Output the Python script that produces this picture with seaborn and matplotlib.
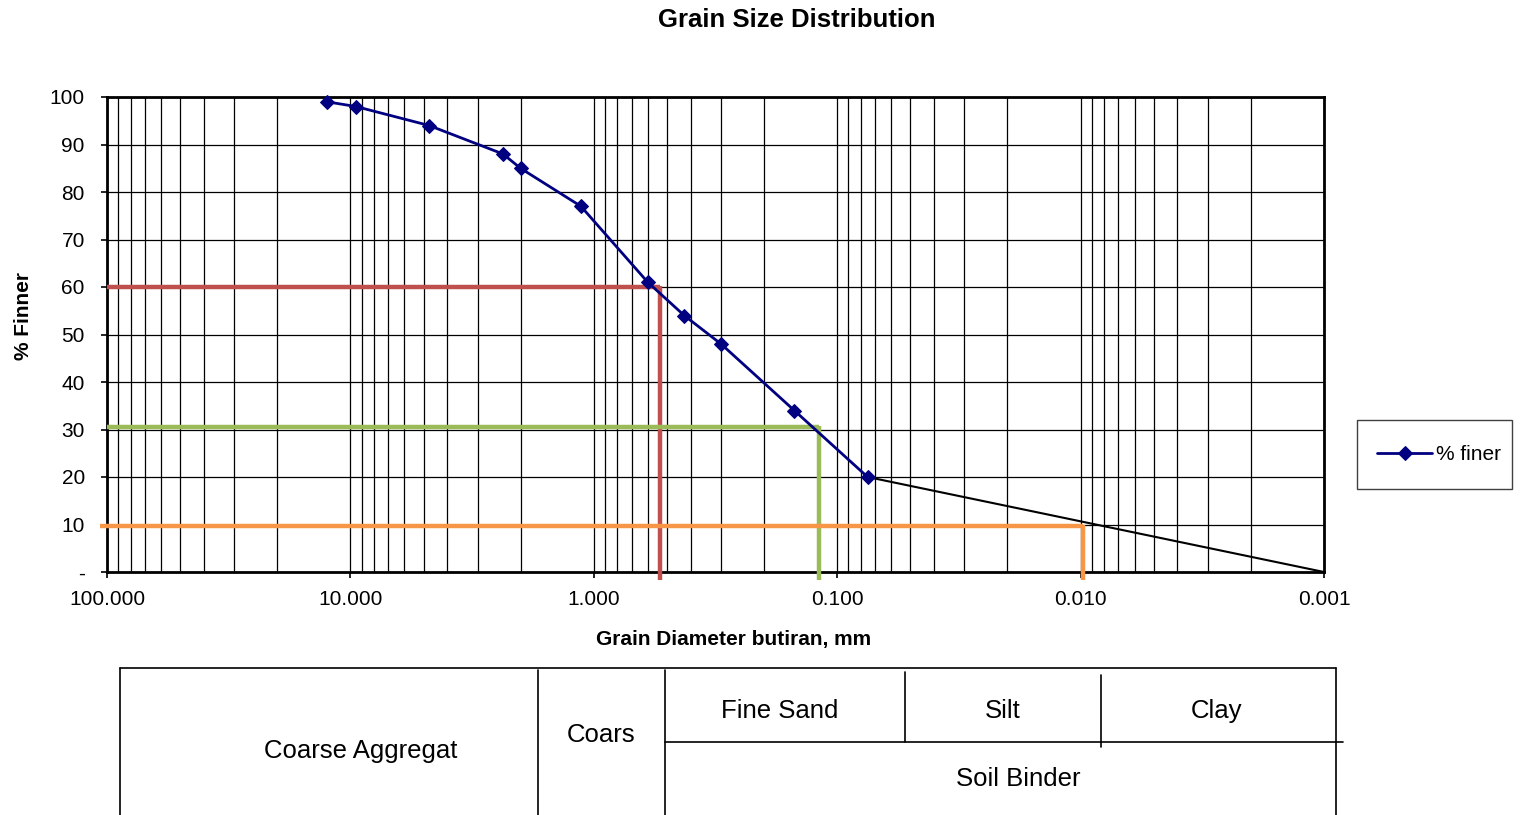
import matplotlib
matplotlib.use("Agg")
import matplotlib.pyplot as plt
from matplotlib.lines import Line2D
from matplotlib.patches import Rectangle
from matplotlib.ticker import LogLocator, FixedLocator, FixedFormatter, NullFormatter
import numpy as np
import pandas as pd
import seaborn as sns

# Sieve analysis results
grain_size_mm = [12.5, 9.5, 4.75, 2.36, 2.0, 1.13, 0.6, 0.425, 0.3, 0.15, 0.075]
percent_finer = [99, 98, 94, 88, 85, 77, 61, 54, 48, 34, 20]

# Extrapolated tail of the curve towards the finest diameter
tail_size_mm = [0.075, 0.001]
tail_finer = [20, 0]

# Characteristic diameters D60, D30, D10
d_labels = ["D60", "D30", "D10"]
d_size_mm = [0.535, 0.119, 0.0098]
d_percent = [60, 30.5, 9.7]
d_colors = ["#C0504D", "#9BBB59", "#F79646"]
d_start_mm = [100, 100, 107]

x_ticks = [100, 10, 1, 0.1, 0.01, 0.001]
x_tick_labels = ["100.000", "10.000", "1.000", "0.100", "0.010", "0.001"]
y_ticks = [0, 10, 20, 30, 40, 50, 60, 70, 80, 90, 100]
y_tick_labels = ["-", "10", "20", "30", "40", "50", "60", "70", "80", "90", "100"]

# Soil classification bands below the chart
band_labels = ["Coarse Aggregat", "Coars", "Fine Sand", "Silt", "Clay", "Soil Binder"]

sns.set_style("white")
plt.rcParams["font.family"] = ["Liberation Sans", "DejaVu Sans"]
plt.rcParams["text.color"] = "black"
plt.rcParams["xtick.labelcolor"] = "black"
plt.rcParams["ytick.labelcolor"] = "black"

W, H = 1522, 815
fig = plt.figure(figsize=(W / 100, H / 100), dpi=100)
fig.patch.set_facecolor("white")


def fx(px):
    return px / W


def fy(py):
    return 1 - py / H


ax = fig.add_axes([fx(107), fy(572), fx(1324) - fx(107), fy(97) - fy(572)])

df = pd.DataFrame({"size": grain_size_mm, "finer": percent_finer})
tail = pd.DataFrame({"size": tail_size_mm, "finer": tail_finer})

ax.set_xscale("log")

# Reference lines for D60 / D30 / D10
for d, p, c, s in zip(d_size_mm, d_percent, d_colors, d_start_mm):
    ax.plot([s, d], [p, p], color=c, lw=3.2, solid_capstyle="butt", clip_on=False, zorder=3)
    ax.plot([d, d], [p + 0.3, -1.7], color=c, lw=3.2, solid_capstyle="butt", clip_on=False, zorder=3)

sns.lineplot(data=tail, x="size", y="finer", color="black", lw=1.5, ax=ax,
             legend=False, zorder=4)
sns.lineplot(data=df, x="size", y="finer", color="#000080", lw=2, marker="D",
             markersize=8, markeredgecolor="#000080", ax=ax, label="% finer", zorder=5,
             clip_on=False)

ax.set_xlim(100, 0.001)
ax.set_ylim(0, 100)

ax.xaxis.set_major_locator(FixedLocator(x_ticks))
ax.xaxis.set_major_formatter(FixedFormatter(x_tick_labels))
ax.xaxis.set_minor_locator(LogLocator(base=10, subs=np.arange(2, 10), numticks=50))
ax.xaxis.set_minor_formatter(NullFormatter())
ax.yaxis.set_major_locator(FixedLocator(y_ticks))
ax.yaxis.set_major_formatter(FixedFormatter(y_tick_labels))

ax.tick_params(axis="x", which="major", direction="out", length=4, width=1.2,
               color="black", labelsize=15, pad=9, bottom=True)
ax.tick_params(axis="x", which="minor", length=0)
ax.tick_params(axis="y", which="major", direction="out", length=4, width=1.2,
               color="black", labelsize=15, pad=12, left=True)

ax.grid(which="both", axis="x", color="black", lw=0.9)
ax.grid(which="major", axis="y", color="black", lw=0.9)
ax.set_axisbelow(True)
for sp in ax.spines.values():
    sp.set_color("black")
    sp.set_linewidth(2)

ax.set_xlabel("")
ax.set_ylabel("")

fig.text(fx(797), fy(20), "Grain Size Distribution", ha="center", va="center",
         fontsize=18.5, fontweight="bold")
fig.text(fx(734), fy(640), "Grain Diameter butiran, mm", ha="center", va="center",
         fontsize=15, fontweight="bold")
fig.text(fx(24), fy(316), "% Finner", ha="center", va="center", rotation=90,
         fontsize=15, fontweight="bold")

# Legend: entry placed inside a hand-sized frame
handles, labels = ax.get_legend_handles_labels()
for h in handles:
    h.set_markersize(7)
leg = ax.legend(handles, labels, loc="center left",
                bbox_to_anchor=(fx(1377), fy(454.5)), bbox_transform=fig.transFigure,
                frameon=False, fontsize=15, handlelength=2.65, handletextpad=0.2,
                borderpad=0, borderaxespad=0)
fig.add_artist(Rectangle((fx(1357), fy(489)), fx(1512) - fx(1357), fy(420) - fy(489),
                         transform=fig.transFigure, fill=False, edgecolor="#404040", lw=1.0))

# Classification table
segments = [
    ((120, 668), (1336, 668)),
    ((120, 668), (120, 815)),
    ((538, 670), (538, 815)),
    ((665, 670), (665, 815)),
    ((905, 672), (905, 742)),
    ((1101, 675), (1101, 747)),
    ((1336, 668), (1336, 815)),
    ((665, 742), (1343, 742)),
]
for (x0, y0), (x1, y1) in segments:
    fig.add_artist(Line2D([fx(x0), fx(x1)], [fy(y0), fy(y1)], color="black", lw=1.2))

band_pos = [(361, 751), (601, 735), (780, 711), (1003, 711), (1217, 711), (1018, 779)]
for lab, (px, py) in zip(band_labels, band_pos):
    fig.text(fx(px), fy(py), lab, ha="center", va="center", fontsize=18.5, color="black")

fig.savefig("out.png", dpi=100, facecolor="white")
